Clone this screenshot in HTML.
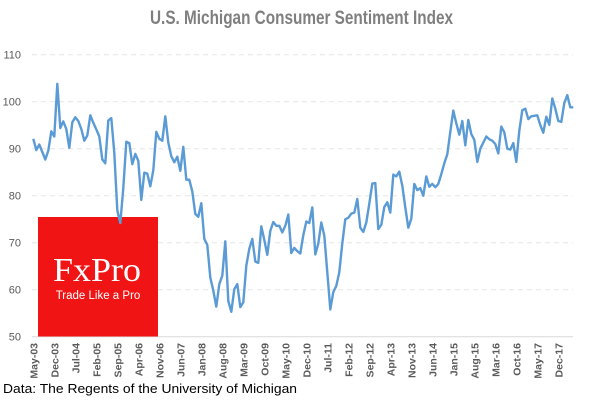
<!DOCTYPE html>
<html><head><meta charset="utf-8"><style>
body{margin:0;background:#fff;}
svg{display:block;font-family:"Liberation Sans",sans-serif;}
</style></head><body>
<svg width="600" height="400">
<text x="150" y="24" font-size="19" font-weight="bold" fill="#7f7f7f" textLength="303" lengthAdjust="spacingAndGlyphs">U.S. Michigan Consumer Sentiment Index</text>
<g id="grid"></g><g id="ylab"></g><g id="xlab"></g>
<rect x="38" y="217" width="120" height="119.5" fill="#f01414"/>
<text x="97" y="281" text-anchor="middle" font-size="34" fill="#fff" font-family="Liberation Serif,serif" textLength="88" lengthAdjust="spacingAndGlyphs">FxPro</text>
<text x="98" y="299" text-anchor="middle" font-size="11.5" fill="#fff">Trade Like a Pro</text>
<path id="line" fill="none" stroke="#5b9bd5" stroke-width="2.4" stroke-linejoin="round"/>
<text x="3" y="393" font-size="13" fill="#000" textLength="294" lengthAdjust="spacingAndGlyphs">Data: The Regents of the University of Michigan</text>
</svg>
<script>
const values=[92.1,89.7,90.9,89.3,87.7,89.6,93.7,92.6,
103.8,94.4,95.8,94.2,90.2,95.6,96.7,95.9,94.2,91.7,92.8,97.1,
95.5,94.1,92.6,87.7,86.9,96.0,96.5,89.1,76.9,74.2,81.6,91.5,
91.2,86.7,88.9,87.4,79.1,84.9,84.7,82.0,85.4,93.6,92.1,91.7,
96.9,91.3,88.4,87.1,88.3,85.3,90.4,83.4,83.4,80.9,76.1,75.5,
78.4,70.8,69.5,62.6,59.8,56.4,61.2,63.0,70.3,57.6,55.3,60.1,
61.2,56.3,57.3,65.1,68.7,70.8,66.0,65.7,73.5,70.6,67.4,72.5,
74.4,73.6,73.6,72.2,73.6,76.0,67.8,68.9,68.2,67.7,71.6,74.5,
74.2,77.5,67.5,69.8,74.3,71.5,63.7,55.8,59.5,60.8,63.7,69.9,
75.0,75.3,76.2,76.4,79.3,73.2,72.3,74.3,78.3,82.6,82.7,72.9,
73.8,77.6,78.6,76.4,84.5,84.1,85.1,82.1,77.5,73.2,75.1,82.5,
81.2,81.6,80.0,84.1,81.9,82.5,81.8,82.5,84.6,86.9,88.8,93.6,
98.1,95.4,93.0,95.9,90.7,96.1,93.1,91.9,87.2,90.0,91.3,92.6,
92.0,91.7,91.0,89.0,94.7,93.5,90.0,89.8,91.2,87.2,93.8,98.2,
98.5,96.3,96.9,97.0,97.1,95.0,93.4,96.8,95.1,100.7,98.5,95.9,
95.7,99.7,101.4,98.8,98.8];
const xLabels=["May-03","Dec-03","Jul-04","Feb-05","Sep-05","Apr-06","Nov-06","Jun-07","Jan-08","Aug-08","Mar-09","Oct-09","May-10","Dec-10","Jul-11","Feb-12","Sep-12","Apr-13","Nov-13","Jun-14","Jan-15","Aug-15","Mar-16","Oct-16","May-17","Dec-17"];
const yTicks=[50,60,70,80,90,100,110];
const NS="http://www.w3.org/2000/svg";
const x0=33.3,step=3.0,yTop=54.7,yBot=336.7;
const xs=i=>x0+i*step;
const ys=v=>yBot-(v-50)/60*(yBot-yTop);
const grid=document.getElementById('grid'),yl=document.getElementById('ylab'),xl=document.getElementById('xlab');
yTicks.forEach(t=>{
 const l=document.createElementNS(NS,'line');
 
 
 l.setAttribute('x1',32);l.setAttribute('x2',573);l.setAttribute('y1',ys(t));l.setAttribute('y2',ys(t));
 l.setAttribute('stroke',t===50?'#d9d9d9':'#e6e6e6');
 if(t!==50)l.setAttribute('stroke-dasharray','5,4');
 grid.appendChild(l);
 const tx=document.createElementNS(NS,'text');
 
 
 tx.setAttribute('x',21);tx.setAttribute('y',ys(t)+4);tx.setAttribute('text-anchor','end');
 tx.setAttribute('font-size','11');tx.setAttribute('fill','#595959');tx.textContent=t;
 yl.appendChild(tx);
});
xLabels.forEach((s,k)=>{
 const x=xs(k*7)+4;
 const tx=document.createElementNS(NS,'text');
 
 
 tx.setAttribute('transform',`translate(${x},343) rotate(-90)`);
 tx.setAttribute('text-anchor','end');tx.setAttribute('font-size','10.5');tx.setAttribute('font-weight','bold');
 tx.setAttribute('fill','#595959');tx.textContent=s;
 xl.appendChild(tx);
});
document.getElementById('line').setAttribute('d',values.map((v,i)=>(i?'L':'M')+xs(i).toFixed(1)+','+ys(v).toFixed(1)).join(''));
</script>
</body></html>
